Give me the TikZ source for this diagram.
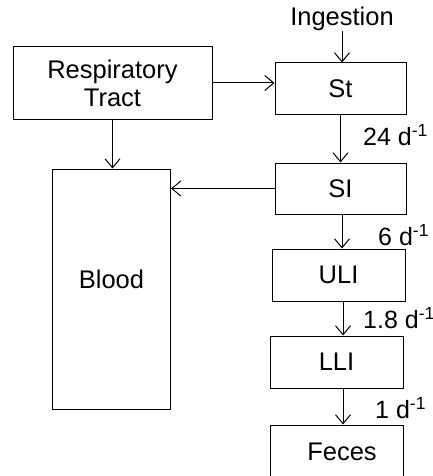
\documentclass[tikz,border=0pt]{standalone}
\usepackage{fontspec}
\setmainfont{Liberation Sans}
\usetikzlibrary{arrows.meta}
\begin{document}
\begin{tikzpicture}[x=1pt,y=-1pt,
  box/.style={draw=black,line width=1pt,inner sep=0pt,align=center},
  txt/.style={inner sep=0pt,font=\fontsize{25.5}{28}\selectfont},
  flow/.style={draw=black,line width=1pt,-{Straight Barb[length=9pt,width=15pt,line width=1pt]}},
  rate/.style={inner sep=0pt,anchor=west,font=\fontsize{25}{28}\selectfont}]
  \useasboundingbox (0,0) rectangle (433,476);
  \fill[white] (0,0) rectangle (433,476);
  \begin{scope}
    \clip (0,0) rectangle (433,476);
    % compartments
    \node[box,txt,minimum width=199pt,minimum height=73pt] (rt) at (112.5,83) {Respiratory\\Tract};
    \node[box,txt,minimum width=131pt,minimum height=52pt] (st) at (340.5,89) {St};
    \node[box,txt,minimum width=131pt,minimum height=51pt] (si) at (340.5,188.5) {SI};
    \node[box,txt,minimum width=133pt,minimum height=52pt] (uli) at (338.5,275) {ULI};
    \node[box,txt,minimum width=133pt,minimum height=52pt] (lli) at (336.5,362) {LLI};
    \node[box,minimum width=133pt,minimum height=80pt] (feces) at (336.5,465) {};
    \node[txt] (fecestext) at (342,452) {Feces};
    \node[box,minimum width=118pt,minimum height=240pt] (blood) at (111.5,289) {};
    \node[txt] (bloodtext) at (111.5,279) {Blood};
    \node[txt] (ingest) at (342,19) {Ingestion};
    % transfers
    \draw[flow] (ingest.south |- 0,31) -- (ingest.south |- st.north);
    \draw[flow] (rt.east) -- (rt.east -| st.west);
    \draw[flow] (rt.south) -- (rt.south |- blood.north);
    \draw[flow] (st.south) -- (si.north);
    \draw[flow] (si.west) -- (si.west -| blood.east);
    \draw[flow] (si.south -| 342,0) -- (uli.north -| 342,0);
    \draw[flow] (uli.south -| 343,0) -- (lli.north -| 343,0);
    \draw[flow] (lli.south -| 343,0) -- (feces.north -| 343,0);
    % rate constants
    \node[rate] (r1) at (363,135) {24 d\textsuperscript{-1}};
    \node[rate] (r2) at (378,235) {6 d\textsuperscript{-1}};
    \node[rate] (r3) at (363,318) {1.8 d\textsuperscript{-1}};
    \node[rate] (r4) at (375,408) {1 d\textsuperscript{-1}};
  \end{scope}
\end{tikzpicture}
\end{document}
